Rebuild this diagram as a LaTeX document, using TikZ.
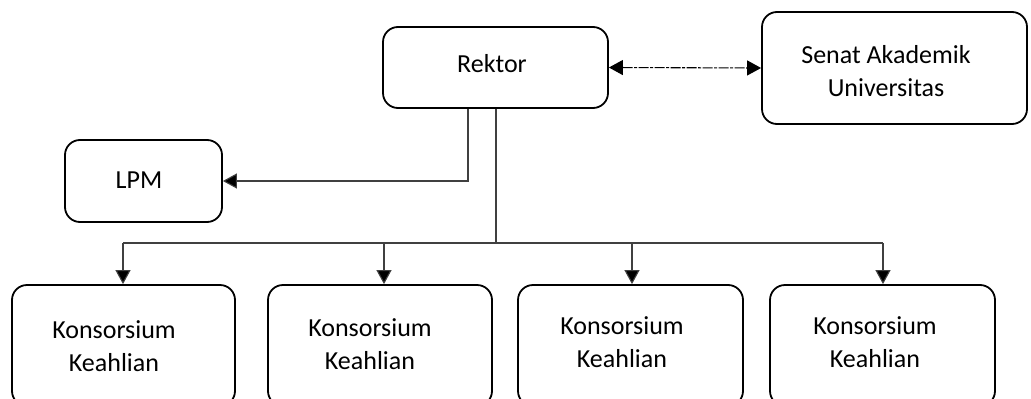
\documentclass[tikz,border=0pt]{standalone}
\usepackage{fontspec}
\setmainfont{Carlito}
\usetikzlibrary{arrows.meta}
\begin{document}
\begin{tikzpicture}[x=1pt,y=-1pt,
  box/.style={draw=black,line width=1.8pt,rounded corners=15pt,fill=white,inner sep=0pt},
  lbl/.style={font=\fontsize{26}{33}\selectfont,align=center,inner sep=0pt},
  conn/.style={draw=black!75,line width=1.1pt},
  tip/.style={-{Triangle[length=14pt,width=15pt,fill=black]}},
]
\clip (0,0) rectangle (1031,399);
\fill[white] (0,0) rectangle (1031,399);
% boxes
\node[box,minimum width=225pt,minimum height=81pt] (rek) at (495.5,67.5) {};
\node[box,minimum width=265pt,minimum height=112pt] (sen) at (894.5,68) {};
\node[box,minimum width=157pt,minimum height=82pt] (lpm) at (143.5,181) {};
\node[box,minimum width=223pt,minimum height=121pt] (k1) at (123.5,345.5) {};
\node[box,minimum width=224pt,minimum height=121pt] (k2) at (380,345.5) {};
\node[box,minimum width=225pt,minimum height=121pt] (k3) at (630.5,345.5) {};
\node[box,minimum width=225pt,minimum height=121pt] (k4) at (882.5,345.5) {};
% labels
\node[lbl] (trek) at (492,64) {Rektor};
\node[lbl] (tsen) at (886,71) {Senat Akademik\\Universitas};
\node[lbl] (tlpm) at (139,180) {LPM};
\node[lbl] (tk1) at (114,346) {Konsorsium\\Keahlian};
\node[lbl] (tk2) at (370,344) {Konsorsium\\Keahlian};
\node[lbl] (tk3) at (622,342) {Konsorsium\\Keahlian};
\node[lbl] (tk4) at (875,342) {Konsorsium\\Keahlian};
% coordinates
\coordinate (l1) at (468,181);
\coordinate (r1) at (496,243);
\coordinate (b1) at (123,243);
\coordinate (b2) at (384,243);
\coordinate (b3) at (632,243);
\coordinate (b4) at (883,243);
% connectors
\draw[line width=1.1pt,dash pattern=on 10pt off 1.5pt on 3pt off 1.5pt,
  {Triangle[length=14pt,width=15pt]}-{Triangle[length=14pt,width=15pt]}]
  (rek.east) -- (sen.west);
\draw[conn,tip] (l1 |- rek.south) -- (l1) -- (lpm.east);
\draw[conn] (r1 |- rek.south) -- (r1);
\draw[conn] (b1) -- (b4);
\draw[conn,tip] (b1) -- (b1 |- k1.north);
\draw[conn,tip] (b2) -- (b2 |- k2.north);
\draw[conn,tip] (b3) -- (b3 |- k3.north);
\draw[conn,tip] (b4) -- (b4 |- k4.north);
\end{tikzpicture}
\end{document}
